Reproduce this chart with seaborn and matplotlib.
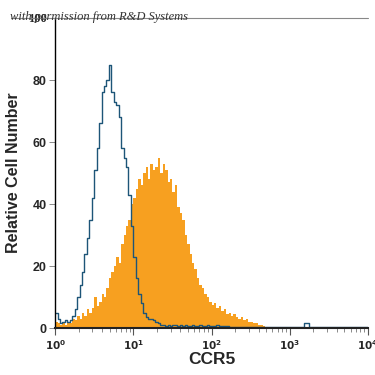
import matplotlib
matplotlib.use("Agg")
import matplotlib.pyplot as plt
import matplotlib.ticker as mticker
from matplotlib.lines import Line2D
import seaborn as sns
import numpy as np

# channel counts, 32 channels per decade from 10^0 to 10^4
ccr5_counts = [
    2, 1.5, 1, 1.5, 1, 2, 1.5, 3, 2.5, 4,
    3, 5, 4, 6, 5, 6.5, 10, 7, 8.5, 11,
    10, 13, 16, 18, 20, 23, 21, 27, 30, 33,
    35, 40, 42, 45, 48, 46, 50, 52, 48, 53,
    51, 52, 55, 50, 53, 51, 47, 48, 44, 46,
    39, 37, 35, 30, 27, 24, 21, 19, 16, 14,
    13, 11, 10, 8.5, 7.5, 8, 6.5, 7, 5.5, 6,
    4.5, 5, 4, 4.5, 3.5, 3, 3.5, 2.5, 3, 2,
    2, 1.5, 1.5, 1, 1, 0.5, 0.3, 0.2, 0, 0,
    0, 0, 0, 0, 0, 0, 0, 0, 0, 0,
    0, 0, 0, 0, 0, 0, 0, 0, 0, 0,
    0, 0, 0, 0, 0, 0, 0, 0, 0, 0,
    0, 0, 0, 0, 0, 0, 0, 0,
]
isotype_counts = [
    5, 3, 1.5, 2, 2.5, 2, 2.5, 4, 6, 10,
    14, 18, 24, 29, 35, 42, 51, 58, 66, 76,
    78, 80, 85, 76, 73, 72, 68, 58, 55, 52,
    43, 33, 23, 16, 11, 8, 5, 3.5, 3, 3,
    2.5, 2, 1.5, 1, 1, 0.5, 1, 0.5, 1, 1,
    0.5, 1, 0.5, 1, 0.5, 0.5, 1, 0.5, 0.5, 1,
    0.5, 0.5, 1, 0.5, 0.5, 0.5, 1, 0.5, 0.5, 0.5,
    0.5, 0.3, 0.3, 0.3, 0.3, 0.3, 0.3, 0.3, 0.3, 0.3,
    0.3, 0.3, 0.3, 0.3, 0.3, 0.3, 0.3, 0.3, 0.3, 0.3,
    0.3, 0.3, 0.3, 0.3, 0.3, 0.3, 0.3, 0.3, 0.3, 0.3,
    0.3, 0.3, 1.5, 1.5, 0.3, 0.3, 0.3, 0.3, 0.3, 0.3,
    0.3, 0.3, 0.3, 0.3, 0.3, 0.3, 0.3, 0.3, 0.3, 0.3,
    0.3, 0.3, 0.3, 0.3, 0.3, 0.3, 0.3, 0.3,
]
n_bins = len(ccr5_counts)
channels = 10 ** ((np.arange(n_bins) + 0.5) * 4 / n_bins)

sns.set_style("white")
plt.rcParams["font.family"] = ["Liberation Sans", "DejaVu Sans"]

fig = plt.figure(figsize=(3.75, 3.75), dpi=100)
ax = fig.add_axes([0.147, 0.1253, 0.834, 0.8267])

sns.histplot(x=channels, weights=ccr5_counts, bins=n_bins, binrange=(0, 4),
             log_scale=True, element="step", fill=True, color="#f7a020",
             alpha=1, linewidth=0, ax=ax)
sns.histplot(x=channels, weights=isotype_counts, bins=n_bins, binrange=(0, 4),
             log_scale=True, element="step", fill=False, color="#1d5578",
             linewidth=1.0, ax=ax)

ax.set_xlim(1, 1e4)
ax.set_ylim(0, 100)
ax.set_yticks([0, 20, 40, 60, 80, 100])
ax.xaxis.set_major_locator(mticker.LogLocator(base=10, numticks=10))
ax.xaxis.set_minor_locator(mticker.LogLocator(base=10, subs=np.arange(2, 10), numticks=100))
ax.xaxis.set_minor_formatter(mticker.NullFormatter())
ax.xaxis.set_major_formatter(mticker.FuncFormatter(lambda v, p: r"$\mathbf{10^{%d}}$" % round(np.log10(v))))

ax.tick_params(axis="x", which="major", direction="out", length=5, width=0.8,
               color="#555555", labelsize=7.5, pad=2, bottom=True)
ax.tick_params(axis="x", which="minor", direction="out", length=3, width=0.6,
               color="#777777", bottom=True)
ax.tick_params(axis="y", direction="out", length=4, width=0.6, color="#777777",
               labelsize=9, pad=2, left=True)
for lbl in ax.get_yticklabels():
    lbl.set_fontweight("bold")
ax.get_yticklabels()[-1].set_family("Liberation Serif")

ax.set_xlabel("CCR5", fontsize=12.5, fontweight="bold", labelpad=0)
ax.set_ylabel("Relative Cell Number", fontsize=11.5, fontweight="bold", labelpad=5)

for side in ["top", "right"]:
    ax.spines[side].set_visible(False)
ax.spines["left"].set_color("black")
ax.spines["left"].set_linewidth(1.0)
ax.spines["bottom"].set_color("#222222")
ax.spines["bottom"].set_linewidth(1.5)

# thin gray rule along the top of the frame
fig.add_artist(Line2D([0.03, 0.981], [0.952, 0.952], color="#888888", linewidth=0.8))
fig.text(0.027, 0.955, "with permission from R&D Systems", fontsize=9,
         family="Liberation Serif", style="italic", color="#333333", va="center")

fig.savefig("out.png", dpi=100)
